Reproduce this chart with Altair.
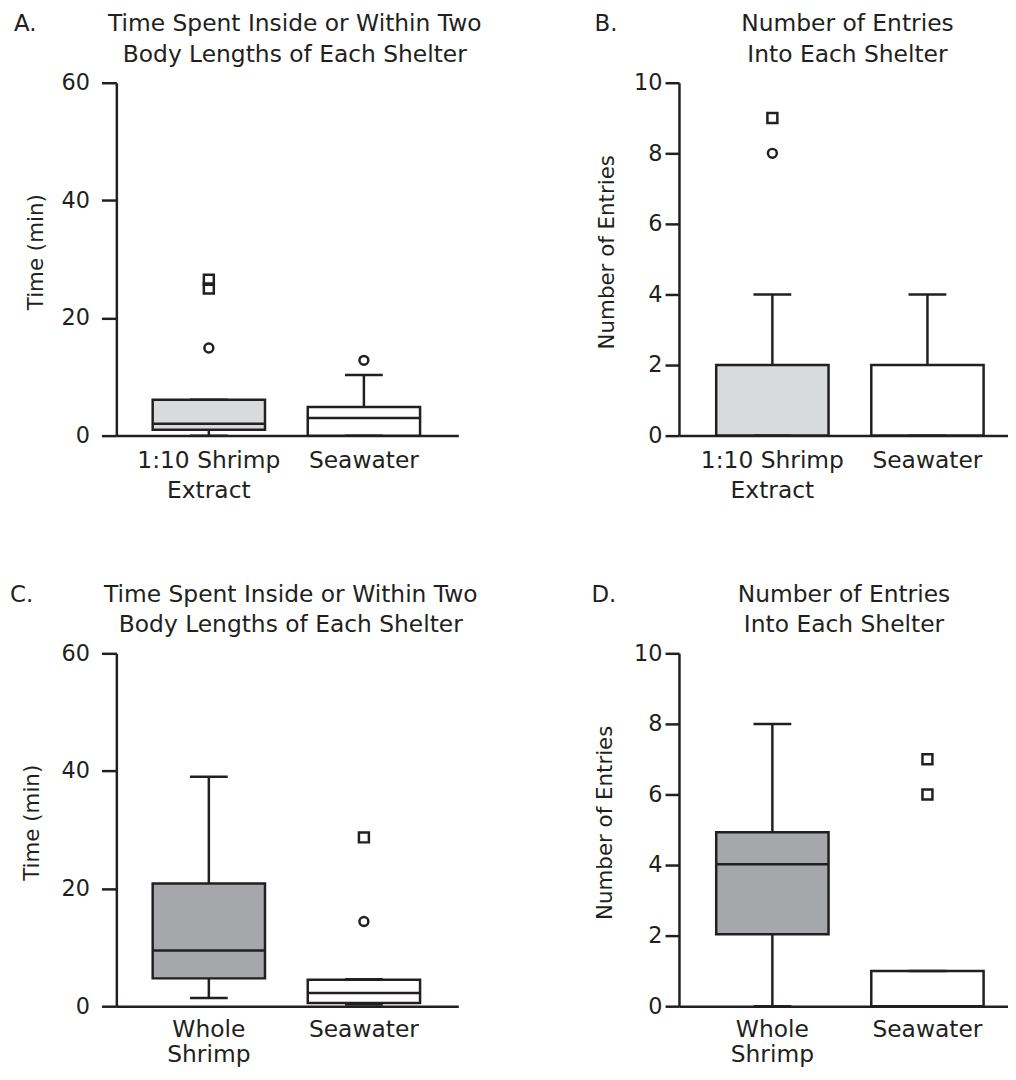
import altair as alt
import pandas as pd

FONT = "DejaVu Sans"
INK = "#231f20"
LIGHT = "#d9dadc"
DARK = "#a6a7aa"
WHITE = "#ffffff"

# ---------------- data ----------------
# Panel A
A_groups = ["1:10 Shrimp\nExtract", "Seawater"]
A_low = [0.0, 0.0]
A_q1 = [1.0, 0.0]
A_median = [2.0, 3.0]
A_q3 = [6.1, 4.85]
A_high = [6.1, 10.3]
A_out_group = ["1:10 Shrimp\nExtract", "1:10 Shrimp\nExtract", "1:10 Shrimp\nExtract", "Seawater"]
A_out_value = [26.5, 25.0, 14.9, 12.8]
A_out_kind = ["square", "square", "circle", "circle"]
A_title = ["Time Spent Inside or Within Two", "Body Lengths of Each Shelter"]

# Panel B
B_groups = ["1:10 Shrimp\nExtract", "Seawater"]
B_low = [0.0, 0.0]
B_q1 = [0.0, 0.0]
B_median = [0.0, 0.0]
B_q3 = [2.0, 2.0]
B_high = [4.0, 4.0]
B_out_group = ["1:10 Shrimp\nExtract", "1:10 Shrimp\nExtract"]
B_out_value = [9.0, 8.0]
B_out_kind = ["square", "circle"]
B_title = ["Number of Entries", "Into Each Shelter"]

# Panel C
C_groups = ["Whole\nShrimp", "Seawater"]
C_low = [1.4, 0.27]
C_q1 = [4.73, 0.56]
C_median = [9.46, 2.25]
C_q3 = [20.86, 4.5]
C_high = [39.0, 4.6]
C_out_group = ["Seawater", "Seawater"]
C_out_value = [28.7, 14.4]
C_out_kind = ["square", "circle"]
C_title = ["Time Spent Inside or Within Two", "Body Lengths of Each Shelter"]

# Panel D
D_groups = ["Whole\nShrimp", "Seawater"]
D_low = [0.0, 0.0]
D_q1 = [2.04, 0.0]
D_median = [4.02, 0.0]
D_q3 = [4.93, 1.0]
D_high = [8.0, 1.0]
D_out_group = ["Seawater", "Seawater"]
D_out_value = [7.0, 6.0]
D_out_kind = ["square", "square"]
D_title = ["Number of Entries", "Into Each Shelter"]

TIME_TICKS = [0, 20, 40, 60]
ENTRY_TICKS = [0, 2, 4, 6, 8, 10]

H = 355


def panel(groups, low, q1, med, q3, high, og, ov, ok, ymax, yvals, ytitle,
          fills, title, letter, L):
    w = L["w"]
    boxes = pd.DataFrame({"group": groups, "low": low, "q1": q1,
                          "median": med, "q3": q3, "high": high})
    outs = pd.DataFrame({"group": og, "value": ov, "kind": ok})

    xs = alt.Scale(domain=groups, paddingInner=0, paddingOuter=L["po"], align=L["align"])
    xaxis = alt.Axis(title=None, ticks=False, tickSize=0, labelAngle=0,
                     labelFontSize=23.5, labelPadding=L["xp"], labelLineHeight=L["xlh"],
                     labelExpr="split(datum.label, '\\n')",
                     domainWidth=2.5, domainColor=INK, labelColor=INK,
                     labelFont=FONT, labelLimit=400)
    yaxis = alt.Axis(title=ytitle, values=yvals, grid=False,
                     tickSize=L["ts"], tickWidth=2.5, tickColor=INK,
                     domainWidth=2.5, domainColor=INK,
                     labelFontSize=22.5, labelPadding=L["lp"], labelColor=INK,
                     labelFont=FONT, titleFont=FONT, titleFontSize=21.5,
                     titleFontWeight="normal", titleColor=INK,
                     titleX=L["tx"], titleY=170, titleAngle=270,
                     titleAlign="center", titleBaseline="middle")
    X = alt.X("group:N", scale=xs, sort=groups, axis=xaxis)
    ys = alt.Scale(domain=[0, ymax], nice=False, zero=False)

    def Y(f):
        return alt.Y(f"{f}:Q", scale=ys, axis=yaxis)

    color = alt.Color("group:N", scale=alt.Scale(domain=groups, range=fills), legend=None)
    base = alt.Chart(boxes)

    upper = base.mark_rule(color=INK, strokeWidth=2.5).encode(x=X, y=Y("q3"), y2="high")
    lower = base.mark_rule(color=INK, strokeWidth=2.5).encode(x=X, y=Y("low"), y2="q1")
    cap_hi = base.mark_tick(color=INK, size=38, thickness=2.5, opacity=1).encode(x=X, y=Y("high"))
    cap_lo = base.mark_tick(color=INK, size=38, thickness=2.5, opacity=1).encode(x=X, y=Y("low"))
    box = base.mark_bar(stroke=INK, strokeWidth=2.5, size=113, opacity=1).encode(
        x=X, y=Y("q1"), y2="q3", color=color)
    median = base.mark_tick(color=INK, size=113, thickness=2.5, opacity=1).encode(x=X, y=Y("median"))

    circles = alt.Chart(outs).transform_filter(alt.datum.kind == "circle").mark_point(
        shape="circle", filled=False, color=INK, strokeWidth=2.5, size=80, opacity=1
    ).encode(x=X, y=Y("value"))
    squares = alt.Chart(outs).transform_filter(alt.datum.kind == "square").mark_point(
        shape="square", filled=False, color=INK, strokeWidth=2.5, size=100, opacity=1
    ).encode(x=X, y=Y("value"))

    t1 = alt.Chart(pd.DataFrame({"t": [title[0]]})).mark_text(
        font=FONT, fontSize=23.5, color=INK, align="center", baseline="alphabetic"
    ).encode(text="t:N", x=alt.value(L["cx"]), y=alt.value(-52))
    t2 = alt.Chart(pd.DataFrame({"t": [title[1]]})).mark_text(
        font=FONT, fontSize=23.5, color=INK, align="center", baseline="alphabetic"
    ).encode(text="t:N", x=alt.value(L["cx"]), y=alt.value(-21))
    lt = alt.Chart(pd.DataFrame({"t": [letter]})).mark_text(
        font=FONT, fontSize=23, color=INK, align="left", baseline="alphabetic"
    ).encode(text="t:N", x=alt.value(L["lx"]), y=alt.value(-52))

    return alt.layer(upper, lower, box, median, cap_hi, cap_lo, circles, squares,
                     t1, t2, lt).properties(width=w, height=H)


LA = dict(w=344, po=0.1026, align=0.47, ts=15, lp=12, tx=-80.7, cx=179.5, lx=-103, xp=13, xlh=30)
LB = dict(w=331, po=0.0609, align=0.84, ts=14, lp=3, tx=-72.3, cx=169.5, lx=-85, xp=13, xlh=30)
LC = dict(w=344, po=0.1026, align=0.47, ts=15, lp=12, tx=-84.5, cx=175.5, lx=-107, xp=11, xlh=26)
LD = dict(w=331, po=0.0609, align=0.84, ts=14, lp=3, tx=-74.3, cx=166, lx=-88, xp=11, xlh=26)

pA = panel(A_groups, A_low, A_q1, A_median, A_q3, A_high, A_out_group, A_out_value,
           A_out_kind, 60, TIME_TICKS, "Time (min)", [LIGHT, WHITE], A_title, "A.", LA)
pB = panel(B_groups, B_low, B_q1, B_median, B_q3, B_high, B_out_group, B_out_value,
           B_out_kind, 10, ENTRY_TICKS, "Number of Entries", [LIGHT, WHITE], B_title, "B.", LB)
pC = panel(C_groups, C_low, C_q1, C_median, C_q3, C_high, C_out_group, C_out_value,
           C_out_kind, 60, TIME_TICKS, "Time (min)", [DARK, WHITE], C_title, "C.", LC)
pD = panel(D_groups, D_low, D_q1, D_median, D_q3, D_high, D_out_group, D_out_value,
           D_out_kind, 10, ENTRY_TICKS, "Number of Entries", [DARK, WHITE], D_title, "D.", LD)

chart = alt.concat(pA, pB, pC, pD, columns=2, spacing={"row": 219, "column": 222},
                   bounds="flush", align="each").resolve_scale(
    color="independent"
).properties(
    padding={"left": 2, "top": 1, "right": 0, "bottom": 0}
).configure_view(stroke=None)

chart.save("out.html", embed_options={"renderer": "svg", "actions": False})
